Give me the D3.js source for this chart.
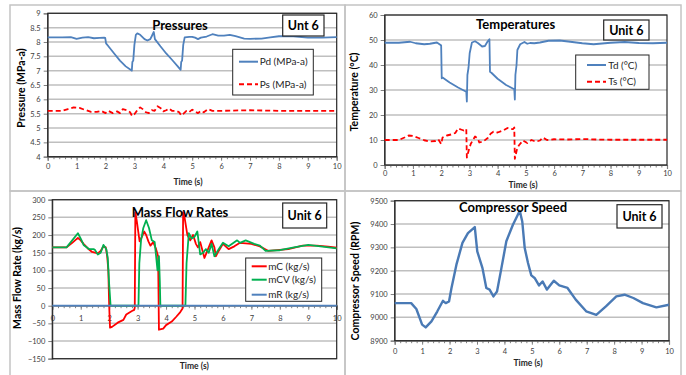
<!DOCTYPE html>
<html>
<head>
<meta charset="utf-8">
<script src="https://cdn.jsdelivr.net/npm/d3@7"></script>
<style>
  body { margin: 0; background: #fff; }
  svg { display: block; font-family: Lato, 'Open Sans', sans-serif; }
</style>
</head>
<body>
<svg id="chart" width="686" height="375"></svg>
<script>
// time axis, shared by all four panels
const timeTicks = [0, 1, 2, 3, 4, 5, 6, 7, 8, 9, 10]

// Pressures (MPa-a): [time s, value]
const pdData = [[0,8.16],[0.5,8.16],[0.8,8.17],[1.0,8.11],[1.2,8.15],[1.4,8.17],[1.6,8.13],[1.8,8.14],[1.95,8.15],[1.99,8.14],[2.02,7.95],[2.1,7.85],[2.3,7.6],[2.5,7.35],[2.7,7.15],[2.88,7.02],[2.91,7.0],[2.93,7.3],[2.96,7.35],[3.0,7.9],[3.05,8.25],[3.1,8.3],[3.2,8.25],[3.35,8.1],[3.45,8.05],[3.55,8.1],[3.6,8.2],[3.67,8.35],[3.71,8.1],[3.9,7.85],[4.1,7.6],[4.3,7.38],[4.5,7.15],[4.58,7.05],[4.6,7.03],[4.62,7.3],[4.65,7.35],[4.69,7.9],[4.74,8.16],[4.9,8.18],[5.0,8.18],[5.1,8.15],[5.2,8.1],[5.3,8.15],[5.5,8.19],[5.7,8.27],[5.9,8.22],[6.1,8.22],[6.3,8.25],[6.5,8.2],[6.8,8.12],[7.0,8.11],[7.4,8.12],[7.7,8.16],[8.0,8.2],[8.5,8.2],[9.0,8.15],[9.5,8.15],[10,8.17]]
const psData = [[0,5.6],[0.5,5.6],[0.7,5.66],[0.9,5.72],[1.1,5.7],[1.3,5.63],[1.5,5.56],[1.7,5.56],[1.85,5.6],[2.0,5.52],[2.1,5.6],[2.25,5.52],[2.4,5.58],[2.5,5.52],[2.6,5.66],[2.75,5.62],[2.85,5.55],[2.92,5.42],[3.0,5.48],[3.1,5.62],[3.2,5.72],[3.3,5.65],[3.4,5.55],[3.5,5.52],[3.6,5.62],[3.7,5.6],[3.8,5.76],[3.9,5.7],[4.0,5.58],[4.1,5.62],[4.2,5.68],[4.3,5.6],[4.45,5.6],[4.55,5.55],[4.62,5.44],[4.7,5.5],[4.8,5.6],[4.9,5.56],[5.0,5.64],[5.1,5.58],[5.2,5.52],[5.3,5.6],[5.4,5.55],[5.55,5.66],[5.7,5.6],[6.0,5.6],[7.0,5.62],[8.0,5.6],[9.0,5.6],[10,5.6]]
const pressureTicks = [4, 4.5, 5, 5.5, 6, 6.5, 7, 7.5, 8, 8.5, 9]

// Temperatures (°C)
const tdData = [[0,48.9],[0.5,48.9],[0.9,49.3],[1.1,48.7],[1.4,48.3],[1.6,48.5],[1.85,49.0],[1.98,48.0],[2.0,47.8],[2.02,34.7],[2.05,35.0],[2.3,33],[2.6,31],[2.89,29.3],[2.91,25.4],[2.93,36],[2.97,39],[3.01,44.7],[3.09,49],[3.2,49.5],[3.3,48.8],[3.45,47.4],[3.55,47.6],[3.65,49.5],[3.71,50.3],[3.73,37.3],[3.77,37.0],[4.0,34.5],[4.3,32],[4.59,30.3],[4.61,26.2],[4.63,36],[4.67,40],[4.7,46],[4.8,48.3],[4.95,49.2],[5.05,48.5],[5.15,48.8],[5.3,48.7],[5.5,49],[5.8,49.7],[6.2,49.8],[6.5,49.4],[7.0,48.7],[7.4,48.3],[8.0,48.9],[8.5,49.2],[9.0,48.8],[9.5,48.7],[10,48.9]]
const tsData = [[0,10],[0.5,10],[0.7,11],[0.85,11.8],[1.0,11.6],[1.2,10.8],[1.4,9.9],[1.6,9.4],[1.8,9.6],[1.9,10.2],[2.0,8.4],[2.05,11],[2.2,11.8],[2.35,12.2],[2.5,12.8],[2.6,14.6],[2.7,14.2],[2.8,13.8],[2.89,14.4],[2.91,3.0],[2.98,6],[3.05,8.5],[3.2,11.4],[3.3,10.5],[3.35,9.0],[3.5,9.5],[3.65,10.8],[3.75,12.5],[3.85,13.3],[4.0,13.0],[4.2,13.8],[4.35,14.8],[4.45,14.3],[4.55,14.4],[4.59,15],[4.61,2.5],[4.68,6],[4.75,7.8],[4.9,9.8],[5.05,8.8],[5.2,10.0],[5.35,9.3],[5.5,9.8],[5.6,11.0],[5.75,10.0],[6.0,10.3],[6.5,10.2],[7.0,10.4],[7.5,10.2],[8.0,10.1],[9.0,10.1],[10,10.1]]
const tempTicks = [0, 10, 20, 30, 40, 50, 60]

// Mass flow rates (kg/s)
const mcData = [[0,165],[0.5,165],[0.7,178],[0.9,192],[1.0,185],[1.1,175],[1.25,162],[1.4,152],[1.6,148],[1.7,155],[1.8,168],[1.88,165],[1.93,140],[1.97,100],[2.0,0],[2.03,-62],[2.1,-60],[2.3,-48],[2.5,-40],[2.6,-25],[2.8,-15],[2.88,-12],[2.9,-5],[2.92,265],[2.97,240],[3.07,182],[3.15,195],[3.23,210],[3.3,200],[3.38,182],[3.45,170],[3.55,180],[3.65,160],[3.72,140],[3.75,-68],[3.9,-65],[4.0,-55],[4.2,-45],[4.35,-32],[4.5,-18],[4.58,-8],[4.6,265],[4.65,250],[4.75,200],[4.85,185],[4.95,200],[5.05,175],[5.12,165],[5.2,180],[5.3,150],[5.35,135],[5.45,155],[5.6,185],[5.7,165],[5.75,140],[5.85,155],[6.0,175],[6.2,160],[6.4,168],[6.6,178],[7.0,175],[7.3,168],[7.6,155],[8.0,158],[8.3,160],[8.8,170],[9.3,170],[9.7,167],[10,164]]
const mcvData = [[0,165],[0.5,165],[0.7,185],[0.9,205],[1.0,190],[1.1,172],[1.3,160],[1.45,160],[1.5,158],[1.6,145],[1.7,150],[1.8,172],[1.9,160],[1.95,135],[2.0,60],[2.05,0],[3.03,0],[3.06,120],[3.12,185],[3.2,220],[3.3,242],[3.4,220],[3.5,185],[3.6,180],[3.7,100],[3.75,140],[3.78,70],[3.8,0],[4.68,0],[4.72,120],[4.8,205],[4.9,190],[5.0,195],[5.1,210],[5.2,145],[5.3,150],[5.4,160],[5.5,150],[5.6,175],[5.7,140],[5.85,160],[6.0,178],[6.2,168],[6.5,185],[6.6,178],[6.8,185],[7.1,175],[7.3,170],[7.5,155],[8.0,157],[8.5,165],[9.0,172],[9.5,167],[10,162]]
const mrData = [[0,0],[10,0]]
const flowTicks = [-150, -100, -50, 0, 50, 100, 150, 200, 250, 300]

// Compressor speed (RPM)
const speedData = [[0,9061],[0.6,9061],[0.79,9036],[1.0,8969],[1.13,8957],[1.34,8983],[1.55,9025],[1.76,9071],[1.86,9061],[1.98,9068],[2.07,9126],[2.25,9226],[2.47,9319],[2.67,9361],[2.92,9387],[3.01,9283],[3.2,9211],[3.34,9126],[3.46,9119],[3.6,9090],[3.73,9111],[3.89,9211],[4.07,9326],[4.31,9397],[4.56,9457],[4.65,9411],[4.74,9297],[4.86,9233],[4.98,9180],[5.1,9169],[5.26,9137],[5.39,9154],[5.55,9119],[5.8,9157],[6.0,9137],[6.3,9126],[6.6,9076],[6.98,9026],[7.35,9011],[7.7,9047],[8.08,9090],[8.38,9097],[8.7,9083],[9.05,9061],[9.54,9043],[10,9054]]
const speedTicks = [8900, 9000, 9100, 9200, 9300, 9400, 9500]

const BLUE = '#4f81bd', RED = '#ff0000', GREEN = '#00b050'
const svg = d3.select('#chart')

// panel frames
const frames = [[10, 5, 335, 186], [345, 5, 336, 186], [10, 191, 335, 200], [345, 191, 336, 200]]
svg.append('g').selectAll('rect').data(frames).join('rect')
  .attr('x', d => d[0]).attr('y', d => d[1]).attr('width', d => d[2]).attr('height', d => d[3])
  .attr('fill', 'none').attr('stroke', '#c4c4c4').attr('stroke-width', 1.5)

function drawPanel(cfg) {
  const x = d3.scaleLinear().domain([0, 10]).range([cfg.left, cfg.right])
  const y = d3.scaleLinear().domain(d3.extent(cfg.yTicks)).range([cfg.bottom, cfg.top])
  const g = svg.append('g')

  // horizontal gridlines
  g.append('g').selectAll('line').data(cfg.yTicks).join('line')
    .attr('x1', cfg.left).attr('x2', cfg.right)
    .attr('y1', d => y(d)).attr('y2', d => y(d))
    .attr('stroke', '#bfbfbf').attr('stroke-width', 1.5)

  // y axis
  const ya = g.append('g').attr('transform', `translate(${cfg.left},0)`)
    .call(d3.axisLeft(y).tickValues(cfg.yTicks).tickSize(4).tickPadding(3).tickFormat(d3.format('')))
  ya.select('.domain').attr('stroke', '#808080').attr('stroke-width', 1.2)
  ya.selectAll('.tick line').attr('stroke', '#808080')
  ya.selectAll('.tick text').attr('fill', '#404040').style('font-size', '7.5px').style('font-family', 'Lato, sans-serif')

  // x axis (minor ticks every 0.2 s)
  const xAt = y(cfg.xAt)
  const xa = g.append('g').attr('transform', `translate(0,${xAt})`)
  xa.append('g').call(d3.axisBottom(x).tickValues(d3.range(0, 10.01, 0.2)).tickSize(2.5).tickFormat(''))
    .call(s => s.select('.domain').remove())
    .selectAll('line').attr('stroke', '#808080')
  const xm = xa.append('g').call(d3.axisBottom(x).tickValues(timeTicks).tickSize(4).tickPadding(cfg.xPad || 4).tickFormat(d3.format('d')))
  xm.select('.domain').attr('stroke', '#808080').attr('stroke-width', 1.2)
  xm.selectAll('.tick line').attr('stroke', '#808080')
  xm.selectAll('.tick text').attr('fill', '#404040').style('font-size', '7.5px').style('font-family', 'Lato, sans-serif')

  // plot area border
  g.append('rect')
    .attr('x', cfg.left).attr('y', cfg.top)
    .attr('width', cfg.right - cfg.left).attr('height', cfg.bottom - cfg.top)
    .attr('fill', 'none').attr('stroke', '#262626').attr('stroke-width', 1.2)

  // series
  const line = d3.line().x(d => x(d[0])).y(d => y(d[1]))
  g.append('g').selectAll('path').data(cfg.series).join('path')
    .attr('d', d => line(d.data))
    .attr('fill', 'none')
    .attr('stroke', d => d.color)
    .attr('stroke-width', d => d.width || 1.8)
    .attr('stroke-dasharray', d => d.dash || null)
    .attr('stroke-linejoin', 'round')

  // title
  g.append('text').attr('x', cfg.title[1]).attr('y', cfg.title[2])
    .attr('text-anchor', 'middle').style('font-size', '13px').style('font-weight', 'bold')
    .text(cfg.title[0])

  // axis titles
  g.append('text').attr('x', cfg.timePos[0]).attr('y', cfg.timePos[1])
    .attr('text-anchor', 'middle').style('font-size', '8.5px').style('font-weight', 'bold').attr('fill', '#262626')
    .text('Time (s)')
  g.append('text')
    .attr('transform', `translate(${cfg.yLabel[1]},${cfg.yLabel[2]}) rotate(-90)`)
    .attr('text-anchor', 'middle').attr('dominant-baseline', 'middle')
    .style('font-size', '10.5px').style('font-weight', 'bold')
    .text(cfg.yLabel[0])

  // unit box
  const u = cfg.unit
  g.append('rect').attr('x', u[1]).attr('y', u[2]).attr('width', u[3]).attr('height', u[4])
    .attr('fill', '#fff').attr('stroke', '#262626').attr('stroke-width', 1.2)
  g.append('text').attr('x', u[1] + u[3] / 2).attr('y', u[2] + u[4] / 2 + 4.5)
    .attr('text-anchor', 'middle').style('font-size', '12.5px').style('font-weight', 'bold')
    .text(u[0])

  // legend
  if (cfg.legend) {
    const L = cfg.legend
    g.append('rect').attr('x', L.x).attr('y', L.y).attr('width', L.w).attr('height', L.h)
      .attr('fill', '#fff').attr('stroke', '#262626').attr('stroke-width', 1)
    const rows = g.append('g').selectAll('g').data(cfg.series).join('g')
      .attr('transform', (d, i) => `translate(${L.x},${L.y + L.rows[i]})`)
    rows.append('line').attr('x1', L.lx[0]).attr('x2', L.lx[1])
      .attr('stroke', d => d.color).attr('stroke-width', 2)
      .attr('stroke-dasharray', d => d.dash || null)
    rows.append('text').attr('x', L.tx).attr('y', 3.5)
      .style('font-size', '10px').attr('fill', '#262626')
      .text(d => d.name)
  }
}

drawPanel({
  left: 47.7, right: 336.7, top: 13.3, bottom: 156.7,
  yTicks: pressureTicks, xAt: 4, xPad: 3,
  series: [
    { name: 'Pd (MPa-a)', data: pdData, color: BLUE },
    { name: 'Ps (MPa-a)', data: psData, color: RED, dash: '5,3' }
  ],
  title: ['Pressures', 180, 29.5],
  timePos: [188, 184.5],
  yLabel: ['Pressure (MPa-a)', 22.5, 88],
  unit: ['Unt 6', 282.7, 15, 41.3, 21],
  legend: { x: 232.7, y: 49.3, w: 80.6, h: 45.7, rows: [12.4, 35], lx: [6.3, 25.3], tx: 27 }
})

drawPanel({
  left: 384.7, right: 667, top: 15, bottom: 165,
  yTicks: tempTicks, xAt: 0, xPad: 2,
  series: [
    { name: 'Td (°C)', data: tdData, color: BLUE },
    { name: 'Ts (°C)', data: tsData, color: RED, dash: '5,3' }
  ],
  title: ['Temperatures', 515.7, 29],
  timePos: [523, 187.5],
  yLabel: ['Temperature (°C)', 355.5, 92],
  unit: ['Unit 6', 603.7, 20, 45.3, 20],
  legend: { x: 575.7, y: 55, w: 73.3, h: 34.3, rows: [10, 26.7], lx: [11.3, 30.3], tx: 32.5 }
})

drawPanel({
  left: 52.3, right: 336.7, top: 199.7, bottom: 358.7,
  yTicks: flowTicks, xAt: 0, xPad: 6,
  series: [
    { name: 'mC (kg/s)', data: mcData, color: RED },
    { name: 'mCV (kg/s)', data: mcvData, color: GREEN },
    { name: 'mR (kg/s)', data: mrData, color: BLUE }
  ],
  title: ['Mass Flow Rates', 180, 216.5],
  timePos: [194.3, 369],
  yLabel: ['Mass Flow Rate (kg/s)', 18.5, 278],
  unit: ['Unit 6', 282.7, 203, 44, 25],
  legend: { x: 245.7, y: 258, w: 76, h: 43.3, rows: [8.3, 21.7, 36.7], lx: [6, 21], tx: 22.5 }
})

drawPanel({
  left: 394.7, right: 669, top: 200.7, bottom: 340.7,
  yTicks: speedTicks, xAt: 8900,
  series: [
    { name: 'Speed', data: speedData, color: '#4a7ab5', width: 2.4 }
  ],
  title: ['Compressor Speed', 513, 211.5],
  timePos: [528, 366],
  yLabel: ['Compressor Speed (RPM)', 356.5, 281],
  unit: ['Unit 6', 617, 204.7, 45, 23.3]
})
</script>
</body>
</html>
